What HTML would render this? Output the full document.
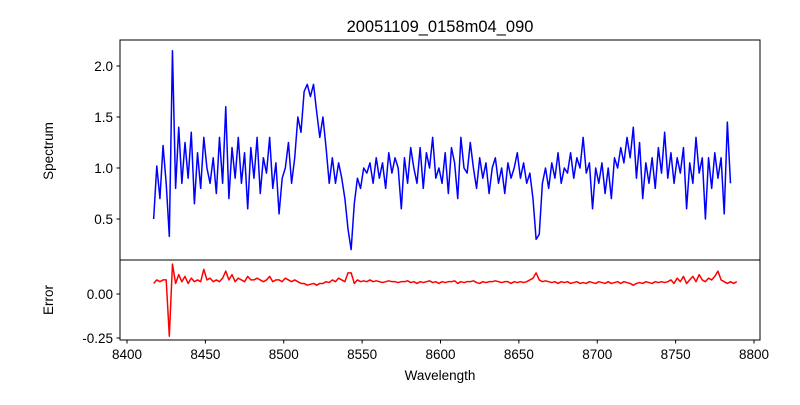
<!DOCTYPE html>
<html><head><meta charset="utf-8"><style>
body{margin:0;background:#fff}
svg text{font-family:"Liberation Sans","DejaVu Sans",sans-serif;fill:#000}
</style></head><body>
<svg id="chart" width="800" height="400" xmlns="http://www.w3.org/2000/svg">
<rect width="800" height="400" fill="#fff"/>
<text x="440" y="32" font-size="16.5" text-anchor="middle">20051109_0158m04_090</text>
<g id="topPanel"></g>
<g id="botPanel"></g>
<text transform="translate(53,151) rotate(-90)" font-size="13.5" text-anchor="middle">Spectrum</text>
<text transform="translate(53,300) rotate(-90)" font-size="13.5" text-anchor="middle">Error</text>
<text x="440" y="380" font-size="13.5" text-anchor="middle">Wavelength</text>
</svg>
<script>
const wlStart = 8417;
const wlStep = 2;
const spectrum = [0.5,1.02,0.7,1.22,0.85,0.33,2.15,0.8,1.4,0.85,1.25,0.9,1.35,0.65,1.15,0.8,1.3,1.0,0.85,1.1,0.75,1.3,0.85,1.6,0.7,1.2,0.9,1.3,0.85,1.15,0.6,1.2,0.9,1.3,0.75,1.1,0.95,1.3,0.8,1.05,0.55,0.9,1.0,1.25,0.85,1.1,1.5,1.35,1.75,1.82,1.7,1.82,1.55,1.3,1.5,1.2,0.85,1.1,0.85,1.05,0.9,0.7,0.4,0.2,0.65,0.9,0.8,1.0,0.95,1.05,0.85,1.1,0.9,1.05,0.8,1.15,0.95,1.1,1.0,0.6,1.1,0.85,1.2,1.0,0.85,1.2,0.8,1.15,1.0,1.3,0.9,1.0,0.85,1.15,0.75,1.2,1.05,0.7,1.3,1.0,0.95,1.25,1.0,0.8,1.1,0.9,1.05,0.75,1.0,1.1,0.85,1.0,0.75,1.05,0.9,1.0,1.15,0.9,1.05,0.85,0.95,0.7,0.3,0.35,0.85,1.0,0.8,1.05,0.9,1.15,0.85,1.0,0.95,1.15,0.9,1.1,1.0,1.3,0.95,1.05,0.6,1.0,0.85,1.05,0.75,1.0,0.7,1.1,1.0,1.2,1.05,1.3,1.1,1.4,0.9,1.25,0.7,1.05,0.85,1.1,0.8,1.2,0.95,1.35,0.9,1.15,0.85,1.1,0.95,1.2,0.6,1.05,0.85,1.3,0.95,1.1,0.5,1.1,0.8,1.15,0.9,1.1,0.55,1.45,0.85];
const errors = [0.06,0.08,0.07,0.08,0.08,-0.24,0.17,0.06,0.11,0.07,0.1,0.06,0.09,0.07,0.08,0.07,0.14,0.08,0.09,0.07,0.08,0.07,0.09,0.13,0.08,0.11,0.07,0.09,0.08,0.07,0.1,0.08,0.08,0.09,0.08,0.07,0.08,0.1,0.07,0.08,0.08,0.07,0.09,0.08,0.07,0.08,0.07,0.06,0.06,0.05,0.055,0.06,0.05,0.06,0.06,0.07,0.065,0.08,0.07,0.09,0.08,0.07,0.12,0.12,0.06,0.08,0.07,0.075,0.07,0.08,0.07,0.075,0.07,0.065,0.07,0.075,0.07,0.07,0.065,0.07,0.07,0.075,0.065,0.07,0.06,0.07,0.065,0.07,0.075,0.065,0.07,0.06,0.07,0.065,0.07,0.07,0.075,0.06,0.07,0.065,0.07,0.07,0.075,0.065,0.06,0.07,0.065,0.07,0.07,0.075,0.07,0.065,0.07,0.07,0.06,0.07,0.065,0.07,0.065,0.07,0.08,0.09,0.12,0.08,0.07,0.075,0.07,0.065,0.07,0.06,0.07,0.065,0.07,0.06,0.065,0.07,0.06,0.065,0.06,0.07,0.065,0.06,0.07,0.065,0.06,0.07,0.06,0.065,0.07,0.06,0.07,0.065,0.06,0.05,0.06,0.065,0.06,0.07,0.065,0.06,0.07,0.065,0.07,0.065,0.07,0.08,0.06,0.09,0.07,0.1,0.06,0.08,0.1,0.07,0.11,0.08,0.07,0.09,0.08,0.1,0.13,0.08,0.07,0.06,0.07,0.06,0.07];
const xTicks = [8400,8450,8500,8550,8600,8650,8700,8750,8800];
const topTicks = [0.5,1.0,1.5,2.0];
const botTicks = [-0.25,0.00];

const NS="http://www.w3.org/2000/svg";
const L=120,R=760,T1=40,B1=260,T2=260,B2=340;
const xs=v=>127+(v-8400)*(627/400);
const ys1=v=>168-(v-1.0)*102;
const ys2=v=>294-v*176;
function mk(tag,attrs,parent){const e=document.createElementNS(NS,tag);for(const k in attrs)e.setAttribute(k,attrs[k]);parent.appendChild(e);return e;}
const topG=document.getElementById('topPanel'),botG=document.getElementById('botPanel');

function line(arr,ys,color,parent,name){
  const d=arr.map((v,i)=>(i?'L':'M')+xs(wlStart+i*wlStep).toFixed(2)+','+ys(v).toFixed(2)).join('');
  const p=mk('path',{d:d,fill:'none',stroke:color,'stroke-width':1.5,'stroke-linejoin':'round'},parent);
  
  
}
line(spectrum,ys1,'#0000ff',topG,'spectrum-line');
line(errors,ys2,'#ff0000',botG,'error-line');

const f1=mk('rect',{x:L,y:T1,width:R-L,height:B1-T1,fill:'none',stroke:'#000','stroke-width':1},topG);


const f2=mk('rect',{x:L,y:T2,width:R-L,height:B2-T2,fill:'none',stroke:'#000','stroke-width':1},botG);



topTicks.forEach(t=>{
  const y=ys1(t);
  mk('line',{x1:L-3.5,x2:L,y1:y,y2:y,stroke:'#000'},topG);
  const tx=mk('text',{x:L-7,y:y+5,'font-size':13.5,'text-anchor':'end'},topG);
  tx.textContent=t.toFixed(1);
  
  
});
botTicks.forEach(t=>{
  const y=ys2(t);
  mk('line',{x1:L-3.5,x2:L,y1:y,y2:y,stroke:'#000'},botG);
  const tx=mk('text',{x:L-7,y:y+5,'font-size':13.5,'text-anchor':'end'},botG);
  tx.textContent=t.toFixed(2);
  
  
});
xTicks.forEach(t=>{
  const x=xs(t);
  mk('line',{x1:x,x2:x,y1:B2,y2:B2+3.5,stroke:'#000'},botG);
  const tx=mk('text',{x:x,y:B2+19,'font-size':13.5,'text-anchor':'middle'},botG);
  tx.textContent=t;
  
  
});
</script>
</body></html>
